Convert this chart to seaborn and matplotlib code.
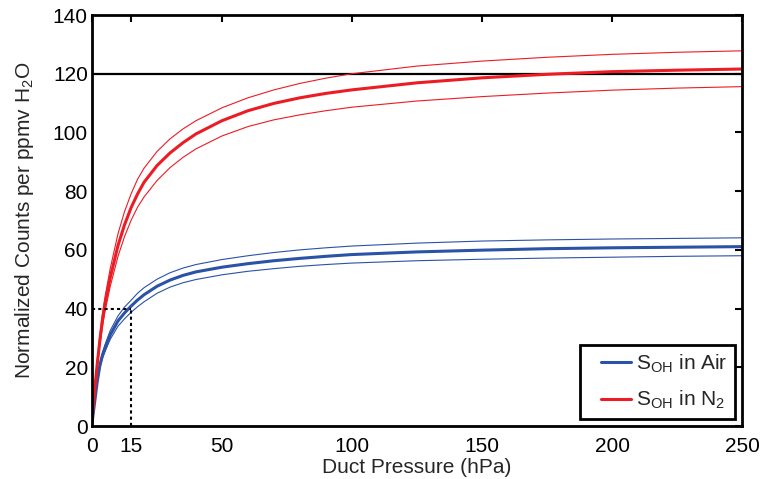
import matplotlib
matplotlib.use("Agg")
import matplotlib.pyplot as plt
from matplotlib.lines import Line2D
from matplotlib.legend_handler import HandlerLine2D
import seaborn as sns

# ---- data ----
pressure = [0, 1, 2, 3, 4, 5, 7, 10, 12.5, 15, 17.5, 20, 25, 30, 35, 40, 50, 60, 70, 80,
            90, 100, 125, 150, 175, 200, 225, 250]

n2_mid   = [2, 12, 21, 29, 36, 41.5, 50.5, 61.5, 68.5, 74.3, 79, 83, 88.7, 93, 96.5, 99.5, 104, 107.4, 109.9, 111.8,
            113.3, 114.5, 116.9, 118.6, 119.8, 120.7, 121.2, 121.6]
n2_upper = [2, 12.8, 22.2, 30.8, 38.2, 44, 53.6, 65.5, 73, 79, 84, 87.8, 93.5, 97.8, 101.2, 104, 108.4, 111.8, 114.5, 116.7,
            118.5, 120, 122.6, 124.3, 125.6, 126.6, 127.3, 127.8]
n2_lower = [2, 11.2, 19.8, 27.2, 33.8, 39, 47.5, 57.8, 64.5, 70, 74.5, 78, 83.6, 88, 91.5, 94.4, 98.8, 102, 104.3, 106,
            107.4, 108.6, 110.7, 112.2, 113.4, 114.4, 115.1, 115.6]

air_mid   = [1, 8, 15, 20.5, 24, 26.5, 31, 35.8, 38.5, 40.8, 42.9, 44.7, 47.6, 49.7, 51.3, 52.5, 54.1, 55.3, 56.3, 57.1,
             57.8, 58.4, 59.3, 59.9, 60.4, 60.7, 60.9, 61.1]
air_upper = [1, 8.3, 15.6, 21.3, 25, 27.7, 32.5, 37.5, 40.5, 42.8, 45.2, 47.1, 50, 52.2, 53.8, 55, 56.7, 58, 59.1, 60,
             60.7, 61.3, 62.3, 63, 63.4, 63.7, 63.9, 64.1]
air_lower = [1, 7.7, 14.4, 19.7, 23, 25.3, 29.5, 34, 36.5, 38.7, 40.6, 42.3, 45.2, 47.3, 48.8, 49.9, 51.5, 52.7, 53.6, 54.4,
             55, 55.5, 56.3, 56.8, 57.2, 57.5, 57.8, 58]

ref_level = 120
mark_x, mark_y = 15, 40

x_ticks = [0, 15, 50, 100, 150, 200, 250]
y_ticks = [0, 20, 40, 60, 80, 100, 120, 140]

blue = "#2A52A6"
red = "#EC1C24"

sns.set_style("white")
plt.rcParams['font.family'] = ['Liberation Sans', 'DejaVu Sans']
plt.rcParams['mathtext.fontset'] = 'custom'
plt.rcParams['mathtext.rm'] = 'Liberation Sans'
plt.rcParams['mathtext.it'] = 'Liberation Sans'

FS = 15

fig = plt.figure(figsize=(7.6, 4.79), dpi=100)
ax = fig.add_axes([92/760, 53/479, 650/760, 411/479])

sns.lineplot(x=pressure, y=air_upper, color=blue, lw=0.8, ax=ax)
sns.lineplot(x=pressure, y=air_lower, color=blue, lw=0.8, ax=ax)
sns.lineplot(x=pressure, y=air_mid, color=blue, lw=2.2, ax=ax, label=r"S$_{\rm OH}$ in Air")
sns.lineplot(x=pressure, y=n2_upper, color=red, lw=0.8, ax=ax)
sns.lineplot(x=pressure, y=n2_lower, color=red, lw=0.8, ax=ax)
sns.lineplot(x=pressure, y=n2_mid, color=red, lw=2.2, ax=ax, label=r"S$_{\rm OH}$ in N$_2$")

ax.axhline(ref_level, color="black", lw=1.6, zorder=1)
ax.plot([mark_x, mark_x], [0, mark_y], color="black", ls=(0, (1.5, 1.5)), lw=1.5)
ax.plot([0, mark_x], [mark_y, mark_y], color="black", ls=(0, (1.5, 1.5)), lw=1.5)

ax.set_xlim(0, 250)
ax.set_ylim(0, 140)
ax.set_xticks(x_ticks)
ax.set_yticks(y_ticks)
ax.tick_params(direction="in", length=5, width=1.5, top=True, right=True,
               labelsize=FS, colors="black", pad=3)
ax.tick_params(axis="x", pad=8)
for s in ax.spines.values():
    s.set_linewidth(2)
    s.set_color("black")

ax.set_xlabel("Duct Pressure (hPa)", fontsize=FS, labelpad=1.5)
ax.set_ylabel(r"Normalized Counts per ppmv H$_2$O", fontsize=FS, labelpad=12)

leg = ax.legend(loc="lower right", fontsize=FS, frameon=True, fancybox=False,
                edgecolor="black", framealpha=1, borderaxespad=0.35,
                handlelength=2.1, handletextpad=0.25, borderpad=0.35, labelspacing=0.7,
                handler_map={Line2D: HandlerLine2D(xpad=0.7)})
leg.get_frame().set_linewidth(2)

fig.savefig("out.png", dpi=100)
